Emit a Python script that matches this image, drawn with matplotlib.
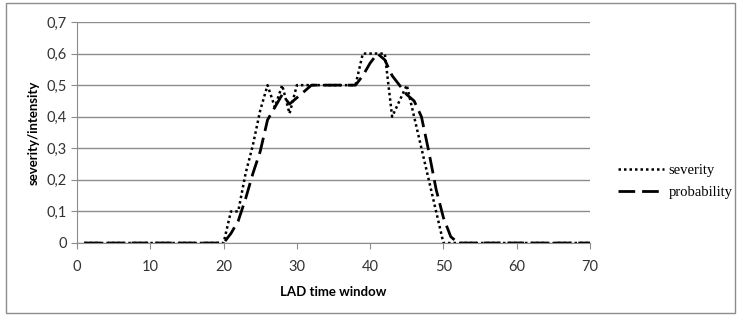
import matplotlib
matplotlib.use("Agg")
from matplotlib import pyplot as plt
import numpy as np

# Data
window = list(range(1, 71))
severity_mid = [0.1, 0.1, 0.22, 0.31, 0.42, 0.5, 0.43, 0.5, 0.41, 0.5,
                0.5, 0.5, 0.5, 0.5, 0.5, 0.5, 0.5, 0.5, 0.6, 0.6,
                0.6, 0.6, 0.4, 0.45, 0.5, 0.4, 0.3, 0.2, 0.1, 0.0]
probability_mid = [0.03, 0.07, 0.14, 0.22, 0.29, 0.39, 0.43, 0.47, 0.44, 0.46,
                   0.48, 0.5, 0.5, 0.5, 0.5, 0.5, 0.5, 0.5, 0.53, 0.57,
                   0.6, 0.58, 0.53, 0.5, 0.47, 0.45, 0.4, 0.29, 0.17, 0.08,
                   0.02, 0.0]
severity = [0.0] * 20 + severity_mid + [0.0] * 20
probability = [0.0] * 20 + probability_mid + [0.0] * 18

y_ticks = [0, 0.1, 0.2, 0.3, 0.4, 0.5, 0.6, 0.7]
y_labels = ["0", "0,1", "0,2", "0,3", "0,4", "0,5", "0,6", "0,7"]
x_ticks = [0, 10, 20, 30, 40, 50, 60, 70]

fig = plt.figure(figsize=(7.38, 3.15), dpi=100)
ax = fig.add_axes([77 / 738, 1 - 243 / 315, (590 - 77) / 738, (243 - 22) / 315])

ax.plot(window, severity, color="black", linestyle=(0, (1, 1.2)), linewidth=1.8,
        label="severity")
ax.plot(window, probability, color="black", linestyle=(0, (6, 2.5)), linewidth=2.0,
        label="probability")

ax.set_xlim(0, 70)
ax.set_ylim(0, 0.7)
ax.set_xticks(x_ticks)
ax.set_yticks(y_ticks)
ax.set_yticklabels(y_labels)
ax.grid(axis="y", color="#8c8c8c", linewidth=1)
ax.set_axisbelow(True)

for side in ["top", "right"]:
    ax.spines[side].set_visible(False)
for side in ["left", "bottom"]:
    ax.spines[side].set_color("#8c8c8c")
ax.tick_params(colors="#8c8c8c", length=4, labelcolor="#333333",
               labelsize=10.5)
ax.tick_params(axis="x", pad=8)
for lab in ax.get_xticklabels() + ax.get_yticklabels():
    lab.set_family("Lato")

ax.set_xlabel("LAD time window", fontsize=9.5, fontweight="bold", family="Lato",
              labelpad=9)
ax.set_ylabel("severity/intensity", fontsize=9.5, fontweight="bold", family="Lato",
              labelpad=5)

leg = ax.legend(loc="center left", bbox_to_anchor=(1.04, 0.28), frameon=False,
                prop={"family": "Liberation Serif", "size": 10.5},
                handlelength=3.2, handletextpad=0.3, labelspacing=0.6,
                borderpad=0)

# outer chart border
border = plt.Rectangle((6 / 738, 2 / 315), 729 / 738, 310 / 315,
                       transform=fig.transFigure, fill=False,
                       edgecolor="#8c8c8c", linewidth=1)
fig.patches.append(border)

plt.savefig("out.png", dpi=100)
